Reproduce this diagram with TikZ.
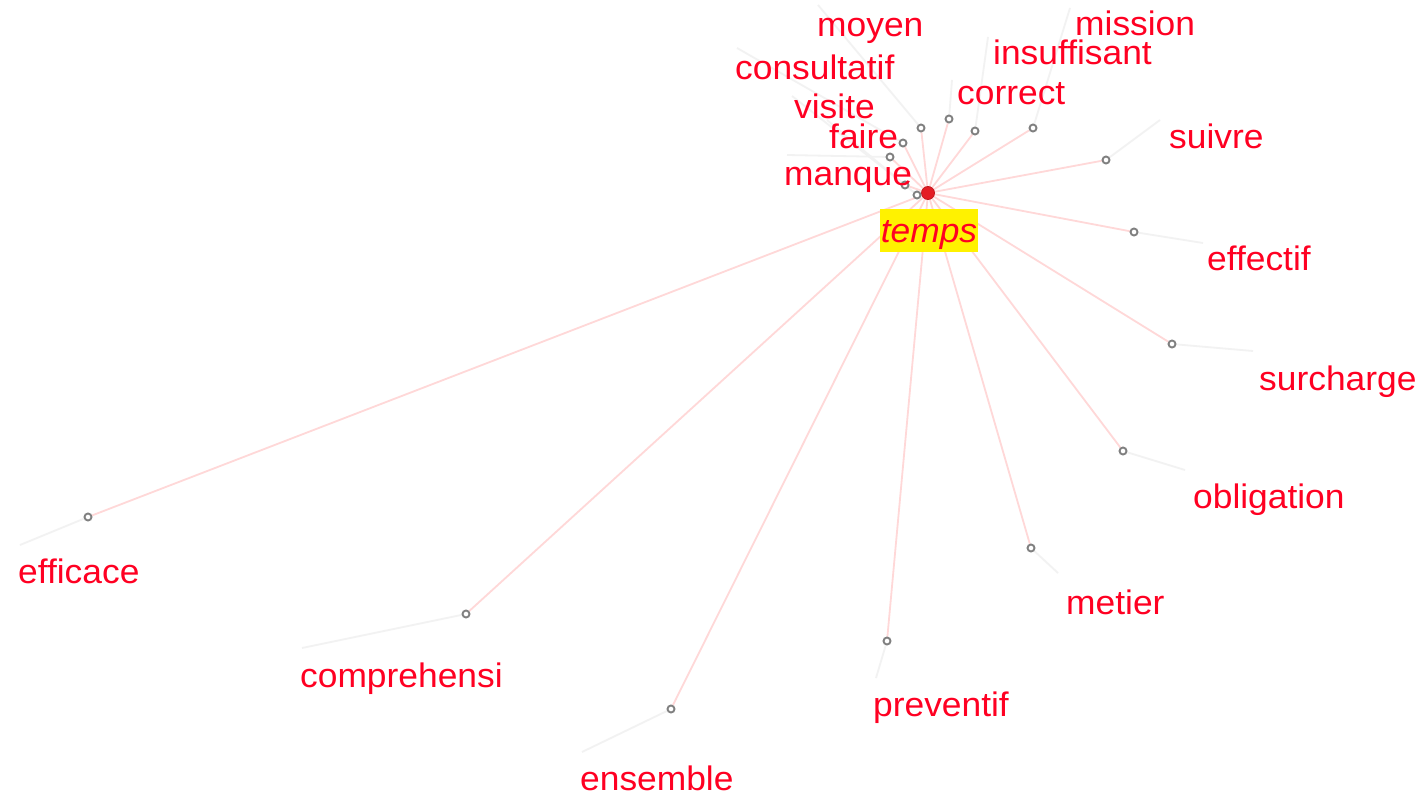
\documentclass[tikz,border=0pt]{standalone}
\usepackage{fontspec}
\setmainfont[FakeStretch=1.04]{Liberation Sans}
\usetikzlibrary{backgrounds}
\definecolor{lbl}{RGB}{255,0,34}
\definecolor{edgepink}{RGB}{255,216,216}
\definecolor{tailgray}{RGB}{242,242,242}
\definecolor{dotgray}{RGB}{128,128,128}
\definecolor{hubred}{RGB}{228,28,36}
\definecolor{hl}{RGB}{255,242,0}
\begin{document}
\begin{tikzpicture}[x=1pt,y=-1pt,
  leaf/.style={circle,draw=dotgray,line width=1.9pt,fill=white,inner sep=0pt,minimum size=7pt},
  word/.style={anchor=base west,inner sep=0pt,text=lbl,font=\fontsize{34}{34}\selectfont},
  spoke/.style={draw=edgepink,line width=1.8pt},
  tailline/.style={draw=tailgray,line width=1.8pt},
  hubdot/.style={circle,fill=hubred,draw=hubred!85!black,line width=0.8pt,inner sep=0pt,minimum size=13pt},
  keyword/.style={fill=hl,text=lbl,inner xsep=0pt,inner ysep=0pt,minimum width=98pt,text height=33pt,text depth=10pt,align=center,font=\fontsize{34}{34}\selectfont\itshape}]
\useasboundingbox (0,0) rectangle (1423,797);
\begin{pgfonlayer}{background}
  \fill[white] (0,0) rectangle (1423,797);
\end{pgfonlayer}
\node[keyword] (temps) at (929,230.5) {temps};
\node[hubdot] (hub) at (928,193) {};
\foreach \n/\cx/\cy/\tx/\ty/\lx/\ly in {
  moyen/921/128/818/5/817/37,
  mission/1033/128/1070/8/1075/36,
  insuffisant/975/131/988/37/993/65,
  consultatif/903/143/737/48/735/80,
  correct/949/119/952/80/957/105,
  visite/905/185/792/96/794/119,
  faire/917/195/827/120/829/148,
  manque/890/157/787/155/784/185,
  suivre/1106/160/1160/120/1169/148,
  effectif/1134/232/1203/243/1207/270,
  surcharge/1172/344/1253/351/1259/390,
  obligation/1123/451/1185/470/1193/508,
  metier/1031/548/1058/573/1066/614,
  preventif/887/641/876/678/873/716,
  ensemble/671/709/582/752/580/790,
  comprehensi/466/614/302/648/300/687,
  efficace/88/517/20/545/18/583}{
  \node[leaf] (\n) at (\cx,\cy) {};
  \coordinate (\n-t) at (\tx,\ty);
  \node[word] (\n-l) at (\lx,\ly) {\n};
  \begin{pgfonlayer}{background}
    \draw[spoke] (hub.center) -- (\n);
    \draw[tailline] (\n) -- (\n-t);
  \end{pgfonlayer}
}
\end{tikzpicture}
\end{document}
